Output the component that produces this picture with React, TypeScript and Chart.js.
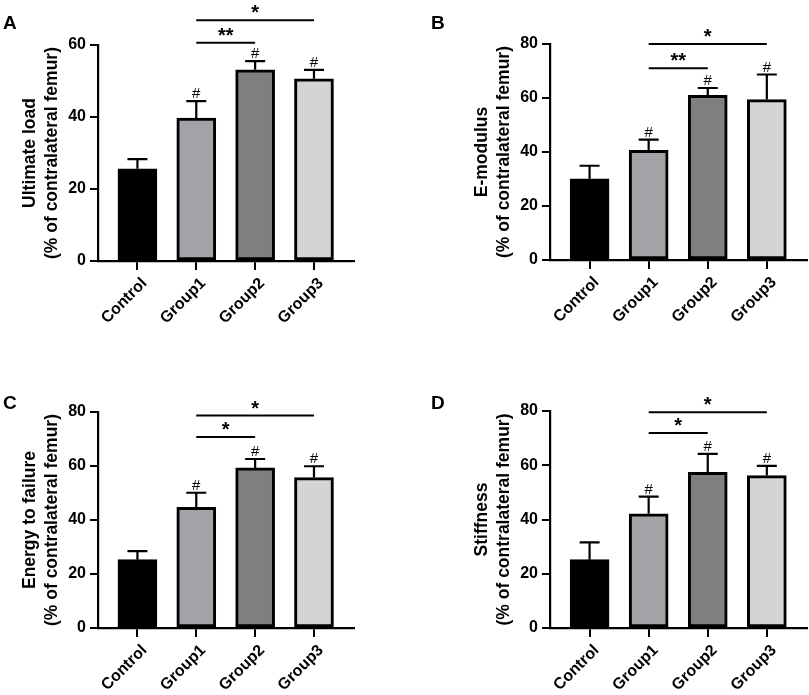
import React, { useEffect, useRef } from 'react';
import { Chart, registerables } from 'chart.js';

Chart.register(...registerables);

// categories and bar fills shared by all four panels
const groups = ['Control', 'Group1', 'Group2', 'Group3'];
const barColors = ['#000000', '#a3a2a7', '#7f7f7f', '#d4d4d4'];
const hashMarks = [false, true, true, true];

// A - ultimate load
const ultimateLoadMean = [25.6, 39.7, 53.1, 50.6];
const ultimateLoadErr = [2.7, 4.7, 2.4, 2.5];
const ultimateLoadSig: [number, number, number, string][] = [[1, 3, 66.9, '*'], [1, 2, 60.6, '**']];

// B - E-modulus
const eModulusMean = [30.1, 40.6, 61.0, 59.4];
const eModulusErr = [4.8, 4.0, 2.7, 9.3];
const eModulusSig: [number, number, number, string][] = [[1, 3, 80.0, '*'], [1, 2, 71.0, '**']];

// C - energy to failure
const energyMean = [25.3, 44.7, 59.3, 55.7];
const energyErr = [3.2, 5.4, 3.3, 4.2];
const energySig: [number, number, number, string][] = [[1, 3, 78.7, '*'], [1, 2, 70.7, '*']];

// D - stiffness
const stiffnessMean = [25.2, 42.1, 57.4, 56.2];
const stiffnessErr = [6.4, 6.3, 6.8, 3.6];
const stiffnessSig: [number, number, number, string][] = [[1, 3, 79.5, '*'], [1, 2, 71.9, '*']];

const yTicks60 = [0, 20, 40, 60];
const yTicks80 = [0, 20, 40, 60, 80];

const FONT = "'Liberation Sans', Arial, Helvetica, sans-serif";

type PanelProps = {
  letter: string;
  title: string[];
  mean: number[];
  err: number[];
  sig: [number, number, number, string][];
  yTickValues: number[];
  left: number;
  top: number;
  width: number;
  height: number;
  padLeft: number;
  padTop: number;
  padRight: number;
  axisBottom: number;
  letterX: number;
  letterY: number;
};

const Panel: React.FC<PanelProps> = (p) => {
  const ref = useRef<HTMLCanvasElement>(null);
  const chartRef = useRef<Chart | null>(null);

  useEffect(() => {
    if (!ref.current) return;

    const annotate = {
      id: 'annotate',
      afterDraw(chart: Chart) {
        const { ctx } = chart;
        const xs = chart.scales.x;
        const ys = chart.scales.y;
        ctx.save();
        ctx.strokeStyle = '#000';
        ctx.fillStyle = '#000';

        // error bars (upper only) and # markers
        p.mean.forEach((m, i) => {
          const cx = xs.getPixelForValue(i);
          const y0 = ys.getPixelForValue(m);
          const y1 = ys.getPixelForValue(m + p.err[i]);
          ctx.lineWidth = 2.2;
          ctx.beginPath();
          ctx.moveTo(cx, y0);
          ctx.lineTo(cx, y1);
          ctx.moveTo(cx - 10, y1);
          ctx.lineTo(cx + 10, y1);
          ctx.stroke();
          if (hashMarks[i]) {
            ctx.font = `15px ${FONT}`;
            ctx.textAlign = 'center';
            ctx.textBaseline = 'alphabetic';
            ctx.fillText('#', cx, y1 - 3);
          }
        });

        // significance lines
        p.sig.forEach(([from, to, v, label]) => {
          const x0 = xs.getPixelForValue(from);
          const x1 = xs.getPixelForValue(to);
          const yy = ys.getPixelForValue(v);
          ctx.lineWidth = 2;
          ctx.beginPath();
          ctx.moveTo(x0, yy);
          ctx.lineTo(x1, yy);
          ctx.stroke();
          ctx.font = `bold 20px ${FONT}`;
          ctx.textAlign = 'center';
          ctx.textBaseline = 'alphabetic';
          ctx.fillText(label, (x0 + x1) / 2, yy - 1);
        });

        // panel letter
        ctx.font = `bold 19px ${FONT}`;
        ctx.textAlign = 'left';
        ctx.textBaseline = 'alphabetic';
        ctx.fillText(p.letter, p.letterX, p.letterY);
        ctx.restore();
      },
    };

    if (chartRef.current) chartRef.current.destroy();

    chartRef.current = new Chart(ref.current, {
      type: 'bar',
      data: {
        datasets: [
          {
            data: p.mean.map((m, i) => ({ x: i, y: m })),
            backgroundColor: barColors,
            borderColor: '#000',
            borderWidth: 3,
            borderSkipped: false,
            barThickness: 39,
          },
        ],
      },
      options: {
        responsive: false,
        animation: false,
        layout: { padding: { left: p.padLeft, top: p.padTop, right: p.padRight, bottom: 0 } },
        plugins: { legend: { display: false }, tooltip: { enabled: false } },
        scales: {
          x: {
            type: 'linear',
            offset: false,
            min: -0.67,
            max: 3.68,
            afterBuildTicks: (axis: any) => {
              axis.ticks = groups.map((_, i) => ({ value: i }));
            },
            afterFit: (axis: any) => {
              axis.height = p.height - p.axisBottom;
              axis.paddingLeft = 0;
              axis.paddingRight = 0;
            },
            ticks: {
              autoSkip: false,
              minRotation: 45,
              maxRotation: 45,
              padding: 4,
              labelOffset: 7,
              color: '#000',
              font: { family: FONT, size: 16, weight: 'bold' },
              callback: (v: any) => groups[v as number] ?? '',
            },
            grid: { offset: false, drawOnChartArea: false, drawTicks: true, tickLength: 9, color: '#000', lineWidth: 2 },
            border: { display: true, color: '#000', width: 2.2 },
          },
          y: {
            min: 0,
            max: p.yTickValues[p.yTickValues.length - 1],
            afterBuildTicks: (axis: any) => {
              axis.ticks = p.yTickValues.map((v) => ({ value: v }));
            },
            afterFit: (axis: any) => {
              axis.width = 98;
            },
            ticks: {
              padding: 4,
              color: '#000',
              font: { family: FONT, size: 16, weight: 'bold' },
            },
            grid: { drawOnChartArea: false, drawTicks: true, tickLength: 8, color: '#000', lineWidth: 2 },
            border: { display: true, color: '#000', width: 2.2 },
            title: {
              display: true,
              text: p.title,
              color: '#000',
              padding: { top: 19, bottom: 0 },
              font: { family: FONT, size: 17.5, weight: 'bold', lineHeight: 1.257 },
            },
          },
        },
      },
      plugins: [annotate],
    } as any);

    return () => {
      if (chartRef.current) {
        chartRef.current.destroy();
        chartRef.current = null;
      }
    };
  }, [p]);

  return (
    <canvas
      ref={ref}
      width={p.width}
      height={p.height}
      style={{ position: 'absolute', left: p.left, top: p.top, width: p.width, height: p.height }}
    />
  );
};

const panelA: PanelProps = {
  letter: 'A', title: ['Ultimate load', '(% of contralateral femur)'],
  mean: ultimateLoadMean, err: ultimateLoadErr, sig: ultimateLoadSig, yTickValues: yTicks60,
  left: 0, top: 0, width: 400, height: 350, padLeft: 0, padTop: 45, padRight: 46, axisBottom: 261,
  letterX: 3, letterY: 29,
};
const panelB: PanelProps = {
  letter: 'B', title: ['E-modulus', '(% of contralateral femur)'],
  mean: eModulusMean, err: eModulusErr, sig: eModulusSig, yTickValues: yTicks80,
  left: 400, top: 0, width: 409, height: 350, padLeft: 52, padTop: 44, padRight: 2, axisBottom: 260,
  letterX: 31, letterY: 29,
};
const panelC: PanelProps = {
  letter: 'C', title: ['Energy to failure', '(% of contralateral femur)'],
  mean: energyMean, err: energyErr, sig: energySig, yTickValues: yTicks80,
  left: 0, top: 350, width: 400, height: 345, padLeft: 0, padTop: 62, padRight: 46, axisBottom: 278,
  letterX: 3, letterY: 59,
};
const panelD: PanelProps = {
  letter: 'D', title: ['Stiffness', '(% of contralateral femur)'],
  mean: stiffnessMean, err: stiffnessErr, sig: stiffnessSig, yTickValues: yTicks80,
  left: 400, top: 350, width: 409, height: 345, padLeft: 52, padTop: 61, padRight: 2, axisBottom: 278,
  letterX: 31, letterY: 59,
};

export default function App() {
  return (
    <div style={{ position: 'absolute', left: 0, top: 0, width: 809, height: 695, background: '#fff', overflow: 'hidden' }}>
      <Panel {...panelA} />
      <Panel {...panelB} />
      <Panel {...panelC} />
      <Panel {...panelD} />
    </div>
  );
}
